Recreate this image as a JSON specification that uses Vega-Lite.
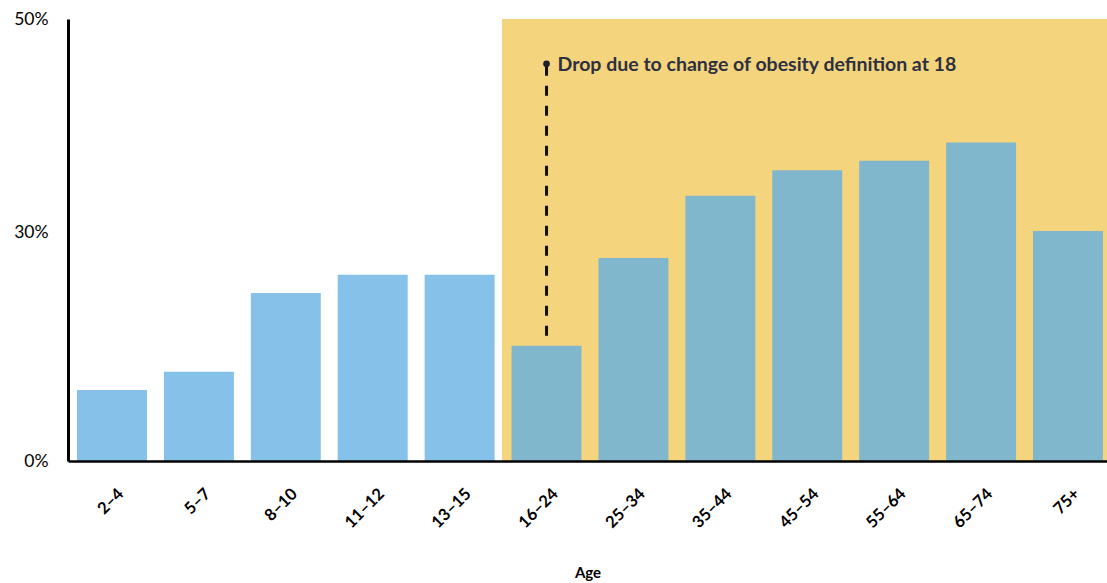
{
  "$schema": "https://vega.github.io/schema/vega-lite/v6.json",
  "width": 1039,
  "height": 442,
  "autosize": {"type": "none"},
  "padding": {"left": 68, "top": 19, "right": 0, "bottom": 122},
  "background": "white",
  "config": {
    "view": {"stroke": null},
    "font": "Lato",
    "axis": {"grid": false, "ticks": false, "domainColor": "#000000", "labelColor": "#000000", "titleColor": "#000000", "labelFont": "Lato", "titleFont": "Lato"}
  },
  "datasets": {
    "bars": [
      {"age": "2–4", "value": 9.3, "group": "child"},
      {"age": "5–7", "value": 11.7, "group": "child"},
      {"age": "8–10", "value": 22.0, "group": "child"},
      {"age": "11–12", "value": 24.4, "group": "child"},
      {"age": "13–15", "value": 24.4, "group": "child"},
      {"age": "16–24", "value": 15.1, "group": "adult"},
      {"age": "25–34", "value": 26.6, "group": "adult"},
      {"age": "35–44", "value": 33.4, "group": "adult"},
      {"age": "45–54", "value": 35.8, "group": "adult"},
      {"age": "55–64", "value": 36.7, "group": "adult"},
      {"age": "65–74", "value": 38.4, "group": "adult"},
      {"age": "75+", "value": 30.1, "group": "adult"}
    ],
    "shade": [{"start": "16–24", "end": "75+", "top": 50, "bottom": 0}],
    "note": [{"age": "16–24", "low": 16.4, "high": 45.8, "label": "Drop due to change of obesity definition at 18"}]
  },
  "layer": [
    {
      "data": {"name": "shade"},
      "mark": {"type": "rect", "color": "#F4D57E"},
      "encoding": {
        "x": {"field": "start", "type": "nominal", "bandPosition": -0.136},
        "x2": {"field": "end", "bandPosition": 1.07},
        "y": {"field": "top", "type": "quantitative"},
        "y2": {"field": "bottom"}
      }
    },
    {
      "data": {"name": "bars"},
      "mark": {"type": "bar"},
      "encoding": {
        "x": {
          "field": "age", "type": "nominal", "sort": null,
          "scale": {"domain": ["2–4", "5–7", "8–10", "11–12", "13–15", "16–24", "25–34", "35–44", "45–54", "55–64", "65–74", "75+"], "paddingInner": 0.195, "paddingOuter": 0.075, "align": 0.69},
          "axis": {"title": "Age", "titleFontSize": 15, "titleFontWeight": "bold", "titlePadding": 35, "labelAngle": -45, "labelAlign": "right", "labelBaseline": "middle", "labelPadding": 30, "labelOffset": 9, "labelFontSize": 16.5, "labelFontWeight": "bold", "domainWidth": 2.5}
        },
        "y": {
          "field": "value", "type": "quantitative",
          "scale": {"domain": [0, 30, 50], "range": [442, 213, 0], "nice": false, "zero": false},
          "axis": {"title": null, "values": [0, 30, 50], "labelExpr": "datum.value + '%'", "labelFontSize": 17.5, "labelFontWeight": "normal", "labelPadding": 20, "domainWidth": 3}
        },
        "color": {"field": "group", "type": "nominal", "scale": {"domain": ["child", "adult"], "range": ["#85C1E9", "#81B7CC"]}, "legend": null}
      }
    },
    {
      "data": {"name": "note"},
      "mark": {"type": "rule", "color": "#111111", "strokeWidth": 3, "strokeDash": [10, 10]},
      "encoding": {
        "x": {"field": "age", "type": "nominal"},
        "y": {"field": "low", "type": "quantitative"},
        "y2": {"field": "high"}
      }
    },
    {
      "data": {"name": "note"},
      "mark": {"type": "point", "filled": true, "color": "#1c1f30", "size": 45, "opacity": 1},
      "encoding": {
        "x": {"field": "age", "type": "nominal"},
        "y": {"field": "high", "type": "quantitative"}
      }
    },
    {
      "data": {"name": "note"},
      "mark": {"type": "text", "align": "left", "baseline": "middle", "dx": 11, "dy": 1, "font": "Lato", "fontSize": 19.5, "fontWeight": "bold", "color": "#2e3040"},
      "encoding": {
        "x": {"field": "age", "type": "nominal"},
        "y": {"field": "high", "type": "quantitative"},
        "text": {"field": "label"}
      }
    }
  ]
}
